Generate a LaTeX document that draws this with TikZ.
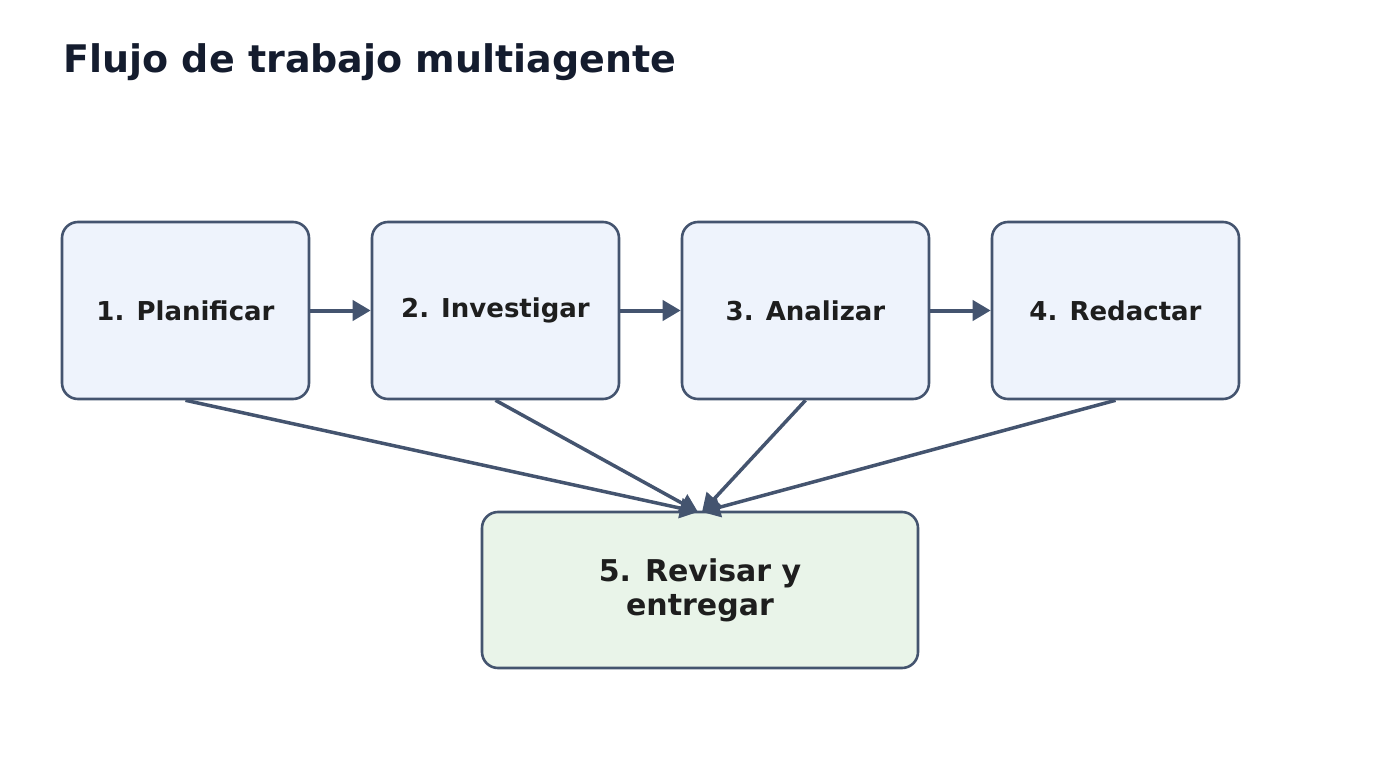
\documentclass[tikz,border=0pt]{standalone}
\usepackage{fontspec}
\setmainfont{DejaVu Sans}
\usetikzlibrary{arrows.meta}
\definecolor{edge}{HTML}{44546F}
\definecolor{bfill}{HTML}{EEF3FC}
\definecolor{gfill}{HTML}{E9F4E9}
\definecolor{ttl}{HTML}{141C2E}
\definecolor{txt}{HTML}{1E1E1E}
\begin{document}
\begin{tikzpicture}[x=1pt,y=-1pt,
 box/.style={draw=edge,line width=2.6pt,rounded corners=16pt,fill=bfill,minimum width=247pt,minimum height=177pt,font=\bfseries\fontsize{26}{30}\selectfont,text=txt,align=center},
 arr/.style={draw=edge,line width=4pt,-{Triangle[length=18pt,width=20pt]}}]
\useasboundingbox (0,0) rectangle (1400,760);
\node[anchor=base west,font=\bfseries\fontsize{38}{44}\selectfont,text=ttl] (title) at (60,73) {Flujo de trabajo multiagente};
\node[box] (b1) at (185.5,310.5) {1. Planificar};
\node[box] (b2) at (495.5,310.5) {2. Investigar};
\node[box] (b3) at (805.5,310.5) {3. Analizar};
\node[box] (b4) at (1115.5,310.5) {4. Redactar};
\node[box,fill=gfill,minimum width=436pt,minimum height=156pt,font=\bfseries\fontsize{30}{34}\selectfont] (b5) at (700,590) {5. Revisar y\\entregar};
\draw[arr] (b1) -- (b2);
\draw[arr] (b2) -- (b3);
\draw[arr] (b3) -- (b4);
\coordinate (t1) at (698,512);
\coordinate (t2) at (702,512);
\draw[arr,line width=3.5pt] (b1.south) -- (t1);
\draw[arr,line width=3.5pt] (b2.south) -- (t1);
\draw[arr,line width=3.5pt] (b3.south) -- (t2);
\draw[arr,line width=3.5pt] (b4.south) -- (t2);
\end{tikzpicture}
\end{document}
